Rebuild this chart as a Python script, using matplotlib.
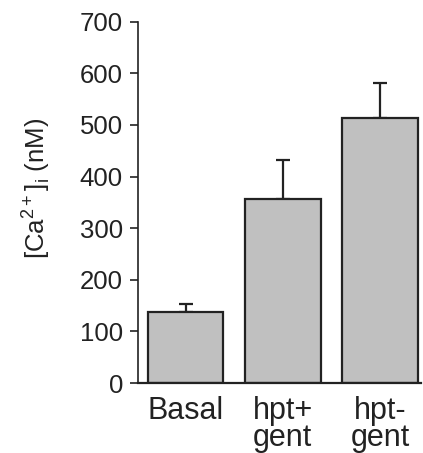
import numpy as np
import matplotlib
matplotlib.use('Agg')
import matplotlib.pyplot as plt

# values
labels = ['Basal', 'hpt+\ngent', 'hpt-\ngent']
means = [138, 357, 514]
errs = [15, 75, 67]
yticks = [0, 100, 200, 300, 400, 500, 600, 700]

plt.rcParams['font.family'] = ['Liberation Sans', 'DejaVu Sans']

fig = plt.figure(figsize=(4.23, 4.53), dpi=100)
ax = fig.add_axes([0.326, 0.1545, 0.669, 0.7975])

x = np.arange(len(labels))
ax.bar(x, means, width=0.78, color='#c0c0c0', edgecolor='#222222', linewidth=1.6, zorder=2)
ax.errorbar(x, means, yerr=[np.zeros(len(errs)), errs], fmt='none', ecolor='#222222',
            elinewidth=1.6, capsize=5, capthick=1.6, zorder=1)

ax.set_ylim(0, 700)
ax.set_xlim(-0.49, 2.42)
ax.set_yticks(yticks)
ax.set_xticks(x)
ax.set_xticklabels(labels, fontsize=22, linespacing=0.88)
ax.tick_params(axis='y', labelsize=18.5, length=5.8, width=1.2, pad=5, colors='#222222')
ax.tick_params(axis='x', length=0, pad=9, colors='#222222')
for lab in ax.get_xticklabels():
    lab.set_color('#222222')

ax.spines['top'].set_visible(False)
ax.spines['right'].set_visible(False)
ax.spines['left'].set_linewidth(1.2)
ax.spines['bottom'].set_linewidth(1.6)
ax.spines['left'].set_color('#222222')
ax.spines['bottom'].set_color('#222222')

# y label placed by hand
fig.text(36 / 423, 1 - 188 / 453, r'[Ca$^{\mathregular{2+}}$]$_{\mathregular{i}}$ (nM)',
         fontsize=18.5, color='#222222', rotation=90, ha='center', va='center')

fig.savefig('out.png', dpi=100)
